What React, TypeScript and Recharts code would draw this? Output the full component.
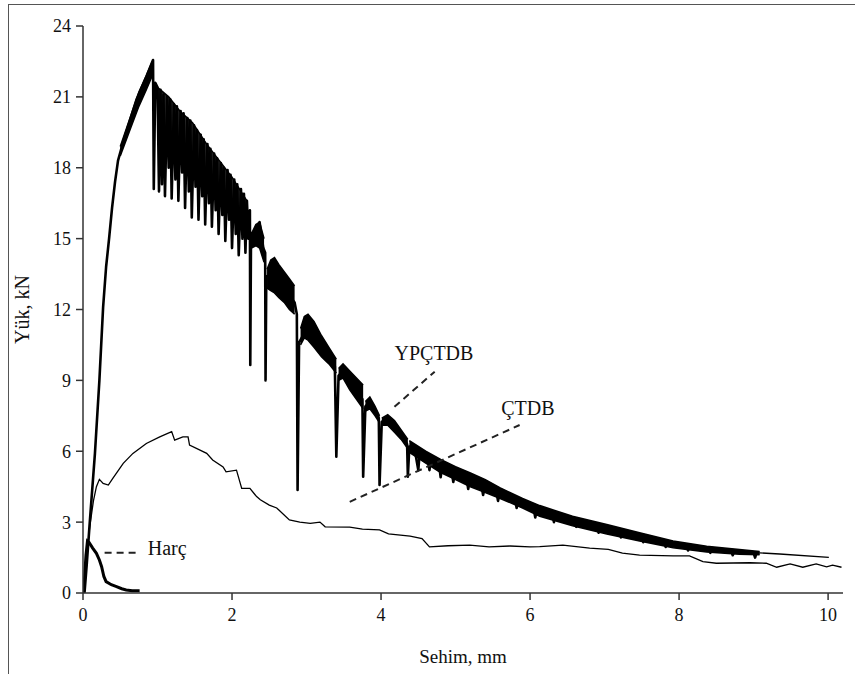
import {
  ComposedChart,
  Line,
  Area,
  XAxis,
  YAxis,
  ReferenceLine,
  ReferenceDot,
} from "recharts";

// x = deflection (mm), y = load (kN)
const ypcTrace: [number, number][] = [
  [0.02, 0], [0.05, 1.2], [0.09, 2.96], [0.16, 5.9], [0.22, 9.0], [0.27, 12.1],
  [0.31, 13.8], [0.35, 15.0], [0.39, 16.3], [0.43, 17.4], [0.47, 18.3], [0.54, 19.1], [0.63, 20.0],
  [0.72, 20.9], [0.85, 21.85], [0.94, 22.56], [0.95, 17.1], [0.97, 21.6],
  [1.0, 21.4], [1.02, 17.0], [1.04, 21.3], [1.06, 17.3], [1.08, 21.1], [1.1, 16.8],
  [1.13, 21.0], [1.15, 18.0], [1.17, 20.9], [1.19, 16.7], [1.22, 20.7], [1.24, 17.5],
  [1.26, 20.6], [1.28, 16.6], [1.31, 20.4], [1.33, 17.8], [1.35, 20.3], [1.37, 16.3],
  [1.4, 20.1], [1.42, 17.0], [1.44, 20.0], [1.46, 15.9], [1.49, 19.8], [1.51, 17.2],
  [1.53, 19.6], [1.55, 15.8], [1.58, 19.4], [1.6, 16.8], [1.62, 19.2], [1.64, 15.6],
  [1.67, 19.0], [1.69, 16.5], [1.71, 18.8], [1.73, 15.5], [1.76, 18.6], [1.78, 16.2],
  [1.8, 18.4], [1.82, 15.2], [1.85, 18.2], [1.87, 16.0], [1.89, 18.0], [1.91, 14.9],
  [1.94, 17.9], [1.96, 15.8], [1.98, 17.7], [2.0, 14.6], [2.03, 17.5], [2.05, 15.2],
  [2.07, 17.3], [2.09, 14.3], [2.12, 17.1], [2.14, 15.0], [2.16, 16.9], [2.18, 14.4],
  [2.2, 16.6], [2.22, 15.0], [2.24, 16.2], [2.245, 9.65], [2.255, 15.2], [2.3, 15.3],
  [2.37, 15.7], [2.42, 14.6], [2.445, 14.4], [2.45, 9.0], [2.46, 13.4], [2.57, 13.5],
  [2.7, 12.9], [2.84, 12.3], [2.87, 11.8], [2.88, 4.36], [2.9, 10.6], [3.02, 11.3],
  [3.2, 10.5], [3.38, 9.6], [3.4, 5.77], [3.43, 9.2], [3.49, 9.4], [3.67, 8.6],
  [3.75, 8.2], [3.76, 4.92], [3.79, 7.9], [3.85, 8.1], [3.97, 7.4], [3.98, 4.57],
  [4.01, 7.25], [4.09, 7.35], [4.27, 6.7], [4.35, 6.3], [4.36, 4.92], [4.38, 6.2],
  [4.45, 6.1], [4.5, 5.2], [4.52, 6.0], [4.62, 5.8], [4.65, 5.2], [4.67, 5.75],
  [4.78, 5.45], [4.8, 4.9], [4.82, 5.4], [4.95, 5.1], [4.97, 4.7], [4.99, 5.05],
  [5.15, 4.8], [5.17, 4.4], [5.19, 4.75], [5.35, 4.5], [5.37, 4.15], [5.39, 4.45],
  [5.55, 4.25], [5.57, 3.9], [5.59, 4.2], [5.8, 3.95], [5.82, 3.6], [5.84, 3.9],
  [6.05, 3.55], [6.07, 3.2], [6.09, 3.5], [6.3, 3.35], [6.32, 3.0], [6.34, 3.3],
  [6.6, 3.1], [6.62, 2.8], [6.64, 3.05], [6.9, 2.85], [6.92, 2.55], [6.94, 2.8],
  [7.2, 2.6], [7.22, 2.35], [7.24, 2.55], [7.5, 2.4], [7.52, 2.15], [7.54, 2.35],
  [7.8, 2.15], [7.82, 1.95], [7.84, 2.1], [8.1, 2.0], [8.12, 1.8], [8.14, 1.95],
  [8.4, 1.88], [8.42, 1.7], [8.44, 1.85], [8.7, 1.78], [8.72, 1.6], [8.74, 1.75],
  [9.0, 1.7], [9.02, 1.5], [9.04, 1.7], [9.08, 1.7],
];

// thick noisy band of YPÇTDB: [x, low, high]
const ypcBands: [number, number, number][][] = [
  [[0.5, 18.5, 18.9], [0.63, 19.6, 20.1], [0.75, 20.6, 21.2], [0.85, 21.3, 21.9], [0.93, 21.9, 22.5]],
  [[1.0, 20.0, 21.4], [1.15, 19.6, 21.0], [1.3, 19.0, 20.4], [1.47, 18.4, 19.9], [1.66, 17.6, 19.0],
   [1.83, 16.9, 18.3], [2.0, 16.2, 17.6], [2.2, 15.5, 16.6]],
  [[2.26, 14.6, 15.2], [2.32, 14.7, 15.6], [2.37, 14.6, 15.7], [2.43, 14.0, 15.0]],
  [[2.47, 12.9, 13.7], [2.52, 12.8, 14.1], [2.57, 12.7, 14.2], [2.63, 12.5, 13.9], [2.7, 12.3, 13.6], [2.77, 12.0, 13.3], [2.84, 11.8, 13.0]],
  [[2.92, 10.5, 11.2], [2.97, 10.8, 11.7], [3.02, 10.7, 11.8], [3.1, 10.4, 11.5], [3.2, 10.0, 10.9], [3.3, 9.7, 10.4], [3.4, 9.3, 9.9]],
  [[3.43, 9.0, 9.5], [3.49, 9.1, 9.7], [3.58, 8.6, 9.4], [3.67, 8.2, 9.1], [3.76, 7.8, 8.8]],
  [[3.79, 7.7, 8.1], [3.85, 7.8, 8.3], [3.92, 7.5, 7.9], [3.98, 7.2, 7.5]],
  [[4.01, 7.1, 7.4], [4.09, 7.1, 7.55], [4.18, 6.8, 7.3], [4.27, 6.5, 6.9], [4.36, 6.1, 6.5]],
  [[4.38, 5.95, 6.45], [4.6, 5.5, 6.0], [4.8, 5.1, 5.65], [5.0, 4.8, 5.35], [5.2, 4.5, 5.08], [5.4, 4.25, 4.8],
   [5.6, 4.0, 4.45], [5.9, 3.6, 4.0], [6.13, 3.25, 3.7], [6.57, 2.85, 3.25], [7.03, 2.5, 2.9], [7.47, 2.2, 2.55],
   [7.92, 1.92, 2.2], [8.37, 1.74, 1.98], [8.81, 1.64, 1.84], [9.08, 1.62, 1.76]],
];

const ypcTail: [number, number][] = [[9.08, 1.7], [9.35, 1.65], [10.01, 1.51]];

const ctdb: [number, number][] = [
  [0, 0], [0.03, 0.9], [0.09, 2.8], [0.14, 3.9], [0.18, 4.5], [0.22, 4.81], [0.27, 4.64],
  [0.34, 4.57], [0.4, 4.85], [0.54, 5.49], [0.67, 5.91], [0.85, 6.33], [1.03, 6.61],
  [1.19, 6.83], [1.23, 6.47], [1.34, 6.61], [1.41, 6.61], [1.43, 6.26], [1.66, 5.91],
  [1.74, 5.63], [1.88, 5.34], [1.92, 5.13], [2.06, 5.2], [2.13, 4.43], [2.24, 4.43],
  [2.33, 4.08], [2.38, 3.95], [2.5, 3.72], [2.6, 3.6], [2.77, 3.09], [2.91, 3.0],
  [3.05, 2.95], [3.18, 3.0], [3.25, 2.8], [3.58, 2.79], [3.75, 2.7], [3.98, 2.67],
  [4.1, 2.5], [4.39, 2.41], [4.55, 2.3], [4.65, 1.95], [4.9, 2.0], [5.19, 2.03],
  [5.45, 1.95], [5.73, 1.99], [6.0, 1.95], [6.13, 1.96], [6.44, 2.03], [6.8, 1.9],
  [7.05, 1.85], [7.24, 1.69], [7.47, 1.6], [7.92, 1.57], [8.14, 1.57], [8.32, 1.33],
  [8.5, 1.26], [8.95, 1.28], [9.17, 1.26], [9.31, 1.09], [9.49, 1.23], [9.66, 1.09],
  [9.84, 1.23], [9.98, 1.11], [10.06, 1.18], [10.18, 1.09],
];

const harc: [number, number][] = [
  [0, 0], [0.02, 0.6], [0.04, 1.6], [0.06, 2.2], [0.08, 2.15], [0.13, 1.9], [0.18, 1.68],
  [0.22, 1.4], [0.25, 1.11], [0.28, 0.7], [0.31, 0.48], [0.38, 0.35], [0.45, 0.27],
  [0.52, 0.18], [0.58, 0.13], [0.66, 0.1], [0.76, 0.1],
];

const xTicks = [0, 2, 4, 6, 8, 10];
const yTicks = [0, 3, 6, 9, 12, 15, 18, 21, 24];

const toPts = (a: [number, number][]) => a.map(([x, y]) => ({ x, y }));
const toBand = (a: [number, number, number][]) => a.map(([x, lo, hi]) => ({ x, r: [lo, hi] }));

const FONT = "'Liberation Serif', 'Times New Roman', serif";
const AXIS = "#333";
const tick = { fontSize: 18, fill: "#111", fontFamily: FONT };
const title = { fontSize: 19, fill: "#111", fontFamily: FONT };
const note = { fontSize: 20, fill: "#111", fontFamily: FONT };

export default function App() {
  return (
    <div style={{ position: "absolute", left: 0, top: 0, width: 855, height: 674, background: "#fff" }}>
      <div
        style={{
          position: "absolute",
          left: 8,
          top: 4,
          width: 847,
          height: 670,
          borderTop: "1.5px solid #555",
          borderLeft: "1.5px solid #555",
        }}
      />
      <div style={{ position: "absolute", left: 0, top: 0 }}>
        <ComposedChart width={855} height={674} margin={{ top: 26, right: 12, left: 0, bottom: 21 }}>
          <XAxis
            type="number"
            dataKey="x"
            domain={[0, 10.2]}
            ticks={xTicks}
            allowDataOverflow
            stroke={AXIS}
            strokeWidth={1.5}
            tickSize={7}
            tickMargin={8}
            tick={tick}
            height={60}
            label={{ value: "Sehim, mm", position: "insideBottom", offset: -10, style: title }}
          />
          <YAxis
            type="number"
            domain={[0, 24]}
            ticks={yTicks}
            stroke={AXIS}
            strokeWidth={1.5}
            tickSize={7}
            tickMargin={5}
            tick={tick}
            width={83}
            label={{ value: "Yük, kN", angle: -90, position: "insideLeft", offset: 22, style: { ...title, fontSize: 20, textAnchor: "middle" } }}
          />
          {ypcBands.map((b, i) => (
            <Area
              key={i}
              data={toBand(b)}
              dataKey="r"
              type="linear"
              stroke="#000"
              strokeWidth={1.5}
              fill="#000"
              fillOpacity={i === 1 ? 0.85 : 1}
              isAnimationActive={false}
              dot={false}
              activeDot={false}
            />
          ))}
          <Line
            data={toPts(ypcTrace)}
            dataKey="y"
            type="linear"
            stroke="#000"
            strokeWidth={2.6}
            strokeLinejoin="round"
            dot={false}
            isAnimationActive={false}
          />
          <Line data={toPts(ypcTail)} dataKey="y" type="linear" stroke="#000" strokeWidth={1.3} dot={false} isAnimationActive={false} />
          <Line data={toPts(ctdb)} dataKey="y" type="linear" stroke="#000" strokeWidth={1.3} dot={false} isAnimationActive={false} />
          <Line data={toPts(harc)} dataKey="y" type="linear" stroke="#000" strokeWidth={3} dot={false} isAnimationActive={false} />
          <ReferenceLine segment={[{ x: 4.18, y: 7.88 }, { x: 4.72, y: 9.37 }]} stroke="#222" strokeWidth={2} strokeDasharray="7 5" />
          <ReferenceLine segment={[{ x: 3.58, y: 3.86 }, { x: 5.86, y: 7.11 }]} stroke="#222" strokeWidth={2} strokeDasharray="7 5" />
          <ReferenceLine segment={[{ x: 0.29, y: 1.7 }, { x: 0.74, y: 1.7 }]} stroke="#222" strokeWidth={2} strokeDasharray="7 5" />
          <ReferenceDot x={4.71} y={10.16} r={0} fill="none" stroke="none" label={{ value: "YPÇTDB", position: "center", style: note }} />
          <ReferenceDot x={5.97} y={7.83} r={0} fill="none" stroke="none" label={{ value: "ÇTDB", position: "center", style: note }} />
          <ReferenceDot x={1.13} y={1.9} r={0} fill="none" stroke="none" label={{ value: "Harç", position: "center", style: note }} />
        </ComposedChart>
      </div>
    </div>
  );
}
